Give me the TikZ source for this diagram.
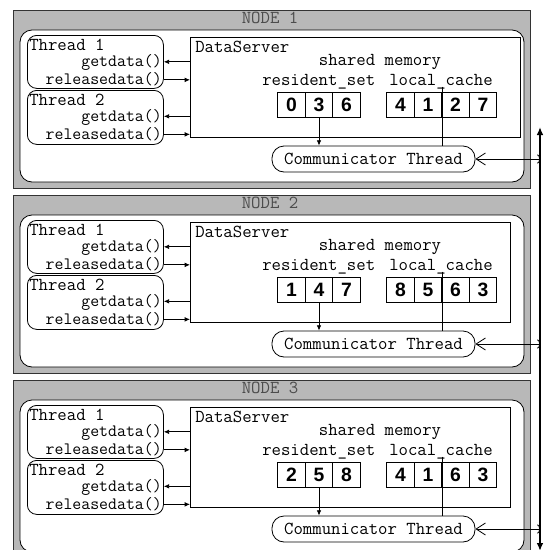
\documentclass[tikz,border=0pt]{standalone}
\usepackage{fontspec}
\usetikzlibrary{arrows.meta}
\newfontfamily\digitfont{Liberation Sans}
\newcommand\codefont{\ttfamily\fontsize{13.7pt}{16pt}\selectfont}
\newcommand\callfont{\ttfamily\fontsize{13pt}{15pt}\selectfont}

\tikzset{
  nodeframe/.style={draw=black!80, fill=black!28, line width=0.7pt},
  innerframe/.style={draw=black, fill=white, rounded corners=9pt, line width=0.6pt},
  threadbox/.style={draw=black, fill=white, rounded corners=7pt, line width=0.6pt,
    anchor=north west, inner sep=0pt},
  serverbox/.style={draw=black, fill=white, line width=0.6pt, anchor=north west, inner sep=0pt},
  commbox/.style={draw=black, fill=white, rounded corners=9pt, line width=0.6pt,
    minimum width=152.25pt, minimum height=19.5pt, inner sep=0pt, font=\codefont},
  lbl/.style={font=\codefont, inner sep=0pt, text height=8pt, text depth=1pt},
  calllbl/.style={lbl, font=\callfont, anchor=base east},
  titlelbl/.style={lbl, text=black!70},
  cell/.style={draw=black, line width=0.6pt, minimum width=20.6pt, minimum height=18.75pt,
    inner sep=0pt, font=\digitfont\bfseries\fontsize{14.5pt}{16pt}\selectfont},
  tip/.style={-{Latex[length=4pt,width=3.5pt]}, line width=0.6pt},
  link/.style={{Straight Barb[length=7pt,width=9pt]}-{Arc Barb[length=2pt,width=7pt]}, line width=0.6pt},
  bus/.style={{Latex[length=6pt,width=5pt]}-{Latex[length=6pt,width=5pt]}, line width=2pt},
}

% One cluster node: #1 vertical shift, #2 node number,
% #3 resident_set entries, #4 local_cache entries, #5 right edge of the DataServer box
\newcommand\clusternode[5]{%
  \pgfmathsetmacro\srvw{(#5-190)*0.75}
  \begin{scope}[shift={(0,#1)}]
    \draw[nodeframe] (13,10) rectangle (530,188);
    \node[titlelbl, anchor=base] (title-#2) at (270,23) {NODE #2};
    \draw[innerframe] (20,30) rectangle (524,182);
    % worker threads
    \node[threadbox, minimum width=102pt, minimum height=39.75pt] (t1-#2) at (27,35) {};
    \node[threadbox, minimum width=102pt, minimum height=40.5pt] (t2-#2) at (27,90) {};
    \node[lbl, anchor=base west] (t1name-#2) at (29,50) {Thread 1};
    \node[calllbl] (t1get-#2) at (162,66.5) {getdata()};
    \node[calllbl] (t1rel-#2) at (162,84.5) {releasedata()};
    \node[lbl, anchor=base west] (t2name-#2) at (29,105) {Thread 2};
    \node[calllbl] (t2get-#2) at (162,121) {getdata()};
    \node[calllbl] (t2rel-#2) at (162,139) {releasedata()};
    % data server with its shared memory
    \node[serverbox, minimum width=\srvw pt, minimum height=75pt] (ds-#2) at (190,37) {};
    \node[lbl, anchor=base west] (dsname-#2) at (195,52) {DataServer};
    \node[lbl, anchor=base] (shm-#2) at (380,65) {shared memory};
    \node[lbl, anchor=base west] (rs-#2) at (262,85) {resident\_set};
    \node[lbl, anchor=base west] (lc-#2) at (389,85) {local\_cache};
    \foreach \d [count=\i] in {#3} {\node[cell] (r\i-#2) at ({264+27.5*\i},104.5) {\d};}
    \foreach \d [count=\i] in {#4} {\node[cell] (c\i-#2) at ({373+27.5*\i},104.5) {\d};}
    \node[commbox] (comm-#2) at (373.5,159) {Communicator Thread};
    % connectors
    \draw[tip] (ds-#2.west |- t1get-#2) -- (t1-#2.east |- t1get-#2);
    \draw[tip] (t1-#2.east |- t1rel-#2) -- (ds-#2.west |- t1rel-#2);
    \draw[tip] (ds-#2.west |- t2get-#2) -- (t2-#2.east |- t2get-#2);
    \draw[tip] (t2-#2.east |- t2rel-#2) -- (ds-#2.west |- t2rel-#2);
    \draw[tip] (r2-#2.south) -- (comm-#2.north -| r2-#2.south);
    \draw[line width=0.6pt] (lc-#2.south -| c2-#2.east) -- (comm-#2.north -| c2-#2.east);
    \coordinate (bk-#2) at (540,159);
    \draw[link] (comm-#2.east) -- (bk-#2);
  \end{scope}%
}

\begin{document}
\begin{tikzpicture}[x=0.75pt, y=-0.75pt]
  \useasboundingbox (0,0) rectangle (545,550);
  \clusternode{0}{1}{0,3,6}{4,1,2,7}{520}
  \clusternode{185}{2}{1,4,7}{8,5,6,3}{510}
  \clusternode{370}{3}{2,5,8}{4,1,6,3}{510}
  % interconnect between the nodes
  \coordinate (bustop) at (540,127);
  \coordinate (busbot) at (540,551);
  \draw[bus] (bustop) -- (busbot);
\end{tikzpicture}
\end{document}
